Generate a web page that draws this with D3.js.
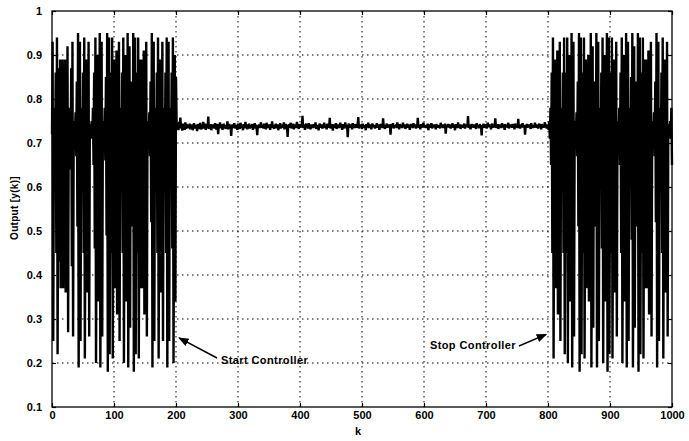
<!DOCTYPE html>
<html>
<head>
<meta charset="utf-8">
<script src="https://cdn.jsdelivr.net/npm/d3@7/dist/d3.min.js"></script>
<style>
  body { margin: 0; background: #fff; }
  text { font-family: "Liberation Sans", Arial, sans-serif; font-weight: bold; }
</style>
</head>
<body>
<svg width="689" height="441"></svg>
<script>

// y(k) before the controller is switched on (k = 0..200)
var freeRun = [
  0.72,0.93,0.25,0.71,0.78,0.65,0.86,0.45,0.94,0.22,
  0.65,0.87,0.43,0.89,0.37,0.88,0.40,0.89,0.37,0.88,
  0.39,0.89,0.36,0.87,0.42,0.92,0.27,0.75,0.71,0.78,
  0.64,0.87,0.42,0.93,0.26,0.73,0.75,0.72,0.77,0.67,
  0.84,0.51,0.95,0.19,0.58,0.93,0.25,0.71,0.78,0.65,
  0.86,0.45,0.94,0.21,0.63,0.89,0.36,0.87,0.42,0.93,
  0.26,0.74,0.74,0.73,0.75,0.71,0.78,0.65,0.86,0.46,
  0.94,0.20,0.61,0.90,0.34,0.85,0.48,0.95,0.19,0.58,
  0.93,0.26,0.73,0.75,0.71,0.78,0.66,0.85,0.49,0.95,
  0.18,0.56,0.94,0.22,0.65,0.86,0.45,0.94,0.21,0.63,
  0.89,0.37,0.88,0.40,0.91,0.31,0.81,0.58,0.93,0.25,
  0.71,0.78,0.65,0.86,0.45,0.94,0.20,0.61,0.90,0.34,
  0.85,0.48,0.95,0.19,0.58,0.92,0.28,0.77,0.67,0.84,
  0.51,0.95,0.18,0.56,0.94,0.22,0.65,0.86,0.45,0.94,
  0.21,0.63,0.89,0.37,0.89,0.37,0.88,0.40,0.91,0.31,
  0.81,0.58,0.93,0.26,0.73,0.75,0.72,0.77,0.67,0.84,
  0.52,0.95,0.19,0.58,0.93,0.25,0.71,0.78,0.65,0.86,
  0.45,0.94,0.21,0.63,0.89,0.36,0.87,0.43,0.93,0.25,
  0.71,0.78,0.65,0.86,0.45,0.94,0.19,0.58,0.93,0.25,
  0.71,0.78,0.65,0.86,0.46,0.94,0.20,0.61,0.90,0.34,
  0.85
];

// y(k) while the controller is running (k = 201..800)
var controlled = [
  0.742,0.731,0.746,0.729,0.748,0.733,0.758,0.736,0.741,0.728,0.744,0.735,0.739,0.730,0.747,0.732,0.743,0.738,0.734,0.741,
  0.736,0.744,0.731,0.740,0.737,0.742,0.729,0.738,0.745,0.733,0.741,0.736,0.739,0.727,0.743,0.735,0.740,0.732,0.746,0.737,
  0.731,0.742,0.736,0.748,0.733,0.739,0.744,0.730,0.737,0.741,0.734,0.760,0.732,0.740,0.736,0.743,0.729,0.738,0.742,0.735,
  0.740,0.733,0.745,0.737,0.731,0.739,0.743,0.720,0.741,0.736,0.747,0.734,0.738,0.742,0.730,0.737,0.744,0.735,0.739,0.732,
  0.741,0.737,0.749,0.731,0.738,0.743,0.735,0.740,0.716,0.737,0.742,0.734,0.739,0.745,0.733,0.738,0.741,0.736,0.730,0.744,
  0.737,0.740,0.732,0.746,0.738,0.735,0.741,0.729,0.743,0.737,0.734,0.748,0.736,0.739,0.731,0.742,0.737,0.744,0.733,0.738,
  0.740,0.735,0.743,0.730,0.739,0.736,0.745,0.733,0.741,0.738,0.718,0.740,0.737,0.742,0.734,0.739,0.747,0.735,0.738,0.741,
  0.733,0.744,0.737,0.739,0.731,0.746,0.736,0.740,0.734,0.742,0.738,0.730,0.743,0.737,0.749,0.735,0.739,0.732,0.741,0.737,
  0.744,0.734,0.738,0.742,0.729,0.740,0.736,0.745,0.733,0.739,0.741,0.735,0.737,0.747,0.731,0.738,0.743,0.736,0.740,0.714,
  0.738,0.742,0.735,0.739,0.746,0.733,0.740,0.737,0.744,0.731,0.739,0.736,0.742,0.734,0.748,0.737,0.740,0.732,0.743,0.738,
  0.735,0.741,0.737,0.762,0.734,0.739,0.742,0.730,0.738,0.744,0.736,0.740,0.733,0.745,0.737,0.739,0.731,0.742,0.736,0.740,
  0.734,0.743,0.738,0.736,0.747,0.732,0.740,0.737,0.741,0.729,0.739,0.744,0.735,0.738,0.742,0.733,0.740,0.737,0.746,0.734,
  0.739,0.741,0.731,0.744,0.737,0.738,0.735,0.757,0.733,0.740,0.736,0.743,0.728,0.739,0.742,0.735,0.738,0.745,0.732,0.740,
  0.737,0.742,0.734,0.739,0.746,0.736,0.740,0.730,0.743,0.737,0.738,0.733,0.747,0.736,0.741,0.738,0.713,0.740,0.744,0.735,
  0.739,0.736,0.742,0.731,0.745,0.738,0.740,0.734,0.743,0.737,0.739,0.735,0.741,0.759,0.733,0.738,0.742,0.736,0.740,0.732,
  0.744,0.737,0.739,0.735,0.741,0.729,0.743,0.738,0.736,0.746,0.734,0.740,0.737,0.742,0.731,0.739,0.744,0.736,0.738,0.741,
  0.733,0.740,0.737,0.745,0.735,0.739,0.742,0.730,0.738,0.743,0.736,0.740,0.734,0.756,0.737,0.739,0.732,0.741,0.738,0.744,
  0.735,0.739,0.742,0.736,0.740,0.719,0.743,0.737,0.739,0.745,0.733,0.740,0.738,0.736,0.742,0.734,0.747,0.737,0.740,0.731,
  0.743,0.738,0.736,0.741,0.734,0.746,0.737,0.739,0.742,0.732,0.740,0.737,0.744,0.735,0.739,0.741,0.730,0.738,0.743,0.736,
  0.740,0.734,0.745,0.737,0.739,0.742,0.733,0.741,0.736,0.757,0.735,0.738,0.740,0.731,0.743,0.737,0.739,0.735,0.746,0.738,
  0.736,0.741,0.734,0.740,0.737,0.744,0.729,0.739,0.742,0.735,0.738,0.745,0.733,0.740,0.737,0.742,0.736,0.739,0.731,0.743,
  0.737,0.740,0.735,0.741,0.738,0.733,0.746,0.736,0.739,0.742,0.734,0.740,0.737,0.744,0.721,0.738,0.741,0.736,0.743,0.735,
  0.739,0.742,0.733,0.740,0.737,0.745,0.735,0.738,0.741,0.729,0.743,0.737,0.740,0.734,0.747,0.736,0.739,0.742,0.732,0.740,
  0.737,0.741,0.735,0.739,0.744,0.733,0.740,0.737,0.742,0.736,0.761,0.734,0.739,0.741,0.731,0.738,0.743,0.736,0.740,0.735,
  0.742,0.737,0.739,0.732,0.745,0.736,0.740,0.738,0.734,0.743,0.737,0.739,0.717,0.741,0.736,0.744,0.735,0.740,0.738,0.742,
  0.733,0.739,0.746,0.736,0.740,0.737,0.742,0.731,0.739,0.744,0.735,0.738,0.741,0.736,0.756,0.734,0.740,0.737,0.743,0.732,
  0.739,0.742,0.736,0.740,0.734,0.745,0.737,0.739,0.741,0.730,0.743,0.736,0.740,0.738,0.735,0.746,0.733,0.739,0.742,0.737,
  0.740,0.735,0.743,0.737,0.739,0.731,0.744,0.738,0.736,0.741,0.734,0.755,0.737,0.740,0.733,0.742,0.736,0.739,0.745,0.735,
  0.738,0.741,0.719,0.740,0.737,0.743,0.735,0.739,0.742,0.736,0.740,0.732,0.745,0.737,0.739,0.734,0.741,0.738,0.746,0.735,
  0.740,0.737,0.742,0.733,0.739,0.744,0.736,0.740,0.731,0.743,0.738,0.741,0.735,0.739,0.747,0.736,0.740,0.733,0.742,0.738
];

// y(k) after the controller is switched off (k = 801..1000)
var afterStop = [
  0.73,0.75,0.71,0.78,0.65,0.86,0.45,0.94,0.21,0.63,
  0.89,0.37,0.88,0.40,0.91,0.31,0.81,0.58,0.93,0.25,
  0.71,0.78,0.65,0.86,0.45,0.94,0.22,0.65,0.86,0.45,
  0.94,0.20,0.61,0.90,0.34,0.85,0.48,0.95,0.19,0.58,
  0.93,0.26,0.73,0.75,0.72,0.77,0.67,0.84,0.51,0.95,
  0.18,0.56,0.94,0.22,0.65,0.86,0.45,0.94,0.21,0.63,
  0.89,0.37,0.88,0.39,0.90,0.34,0.85,0.48,0.95,0.19,
  0.58,0.92,0.28,0.77,0.67,0.84,0.51,0.95,0.19,0.58,
  0.93,0.25,0.71,0.78,0.65,0.86,0.46,0.94,0.20,0.61,
  0.90,0.34,0.85,0.48,0.95,0.18,0.56,0.94,0.22,0.65,
  0.86,0.45,0.94,0.21,0.63,0.89,0.36,0.87,0.42,0.93,
  0.26,0.73,0.75,0.71,0.78,0.65,0.86,0.45,0.94,0.20,
  0.61,0.90,0.34,0.85,0.49,0.95,0.19,0.58,0.93,0.25,
  0.71,0.78,0.66,0.85,0.48,0.95,0.19,0.58,0.92,0.28,
  0.77,0.67,0.84,0.51,0.95,0.18,0.56,0.94,0.22,0.65,
  0.86,0.45,0.94,0.21,0.63,0.89,0.37,0.89,0.37,0.88,
  0.40,0.91,0.31,0.81,0.58,0.93,0.26,0.73,0.75,0.72,
  0.77,0.67,0.84,0.52,0.95,0.19,0.58,0.93,0.25,0.71,
  0.78,0.65,0.86,0.45,0.94,0.21,0.63,0.89,0.36,0.87,
  0.43,0.93,0.26,0.74,0.74,0.73,0.75,0.71,0.78,0.65
];

var xTicks = [0, 100, 200, 300, 400, 500, 600, 700, 800, 900, 1000];
var yTicks = [0.1, 0.2, 0.3, 0.4, 0.5, 0.6, 0.7, 0.8, 0.9, 1];

var notes = [
  { text: "Start Controller", k: 205, y: 0.257, tx: 221, ty: 364, ax: 217, ay: 358 },
  { text: "Stop Controller",  k: 797, y: 0.265, tx: 516, ty: 349, ax: 519, ay: 346 }
];

var svg = d3.select("svg"),
    margin = { top: 11, right: 17, bottom: 34, left: 52 },
    width = +svg.attr("width") - margin.left - margin.right,
    height = +svg.attr("height") - margin.top - margin.bottom,
    g = svg.append("g").attr("transform", "translate(" + margin.left + "," + margin.top + ")");

var series = freeRun.concat(controlled, afterStop);

var x = d3.scaleLinear().domain([0, 1000]).range([0, width]);
var y = d3.scaleLinear().domain([0.1, 1]).range([height, 0]);

// dotted grid
g.append("g").selectAll("line")
    .data(xTicks.slice(1, -1))
    .enter().append("line")
      .attr("x1", function(d) { return x(d); })
      .attr("x2", function(d) { return x(d); })
      .attr("y1", 0)
      .attr("y2", height)
      .attr("stroke", "#000")
      .attr("stroke-width", 1)
      .attr("stroke-dasharray", "1.5,3.5");

g.append("g").selectAll("line")
    .data(yTicks.slice(1, -1))
    .enter().append("line")
      .attr("x1", 0)
      .attr("x2", width)
      .attr("y1", function(d) { return y(d); })
      .attr("y2", function(d) { return y(d); })
      .attr("stroke", "#000")
      .attr("stroke-width", 1)
      .attr("stroke-dasharray", "1.5,3.5");

// output trace
var line = d3.line()
    .x(function(d, i) { return x(i); })
    .y(function(d) { return y(d); });

g.append("path")
    .datum(series)
    .attr("d", line)
    .attr("fill", "none")
    .attr("stroke", "#000")
    .attr("stroke-width", 2.4)
    .attr("stroke-linejoin", "bevel");

// axes, ticks pointing inwards
var fmt = function(d) { return d === 1 ? "1" : d3.format(".1f")(d); };

g.append("g")
    .attr("transform", "translate(0," + height + ")")
    .call(d3.axisBottom(x).tickValues(xTicks).tickSize(-4).tickPadding(4).tickFormat(d3.format("d")));

g.append("g")
    .call(d3.axisTop(x).tickValues(xTicks).tickSize(-4).tickFormat(""));

g.append("g")
    .call(d3.axisLeft(y).tickValues(yTicks).tickSize(-4).tickPadding(10).tickFormat(fmt));

g.append("g")
    .attr("transform", "translate(" + width + ",0)")
    .call(d3.axisRight(y).tickValues(yTicks).tickSize(-4).tickFormat(""));

g.selectAll(".domain").remove();
g.selectAll(".tick line").attr("stroke", "#000").attr("stroke-width", 1.2);
g.selectAll(".tick text").attr("font-size", 11).attr("fill", "#000");

g.append("rect")
    .attr("width", width)
    .attr("height", height)
    .attr("fill", "none")
    .attr("stroke", "#000")
    .attr("stroke-width", 1.3);

// axis titles
svg.append("text")
    .attr("x", margin.left + width / 2 - 4)
    .attr("y", 435)
    .attr("text-anchor", "middle")
    .attr("font-size", 11)
    .text("k");

svg.append("text")
    .attr("transform", "translate(18," + 208 + ") rotate(-90)")
    .attr("text-anchor", "middle")
    .attr("font-size", 10)
    .attr("letter-spacing", 0.3)
    .text("Output [y(k)]");

// controller annotations
svg.append("defs").append("marker")
    .attr("id", "head")
    .attr("viewBox", "0 0 10 10")
    .attr("refX", 9)
    .attr("refY", 5)
    .attr("markerWidth", 7)
    .attr("markerHeight", 7)
    .attr("orient", "auto")
  .append("path")
    .attr("d", "M0,1L10,5L0,9z")
    .attr("fill", "#000");

var note = svg.selectAll(".note")
    .data(notes)
    .enter().append("g")
      .attr("class", "note");

note.append("line")
    .attr("x1", function(d) { return d.ax; })
    .attr("y1", function(d) { return d.ay; })
    .attr("x2", function(d) { return margin.left + x(d.k); })
    .attr("y2", function(d) { return margin.top + y(d.y); })
    .attr("stroke", "#000")
    .attr("stroke-width", 1.5)
    .attr("marker-end", "url(#head)");

note.append("text")
    .attr("x", function(d) { return d.tx; })
    .attr("y", function(d) { return d.ty; })
    .attr("text-anchor", function(d, i) { return i === 0 ? "start" : "end"; })
    .attr("font-size", 11)
    .attr("letter-spacing", 0.4)
    .text(function(d) { return d.text; });

</script>
</body>
</html>
